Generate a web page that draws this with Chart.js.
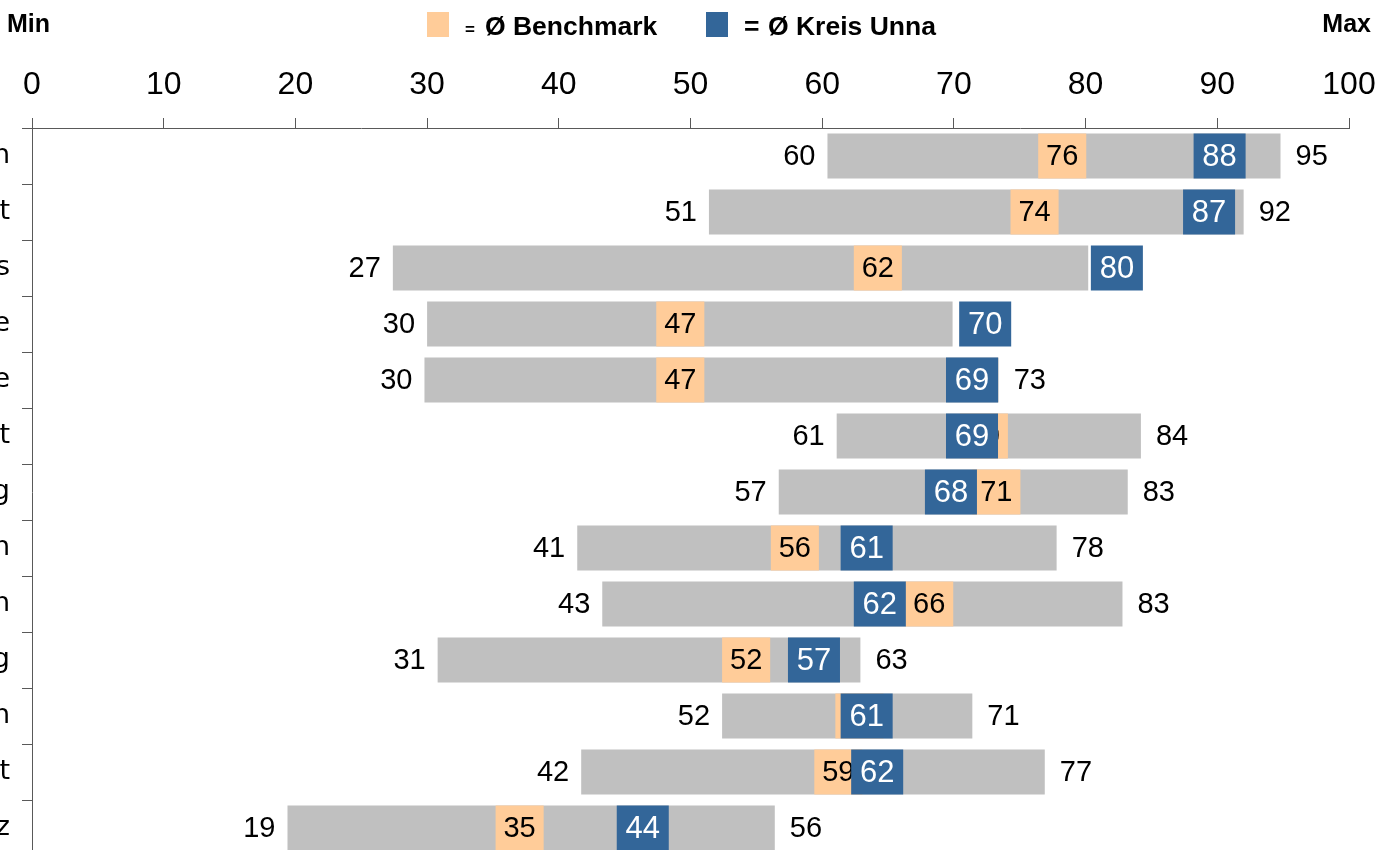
<!DOCTYPE html>
<html>
<head>
<meta charset="utf-8">
<script src="https://cdn.jsdelivr.net/npm/chart.js@4/dist/chart.umd.min.js"></script>
<style>
html, body { margin: 0; padding: 0; overflow: hidden; background: #fff; }
#wrap { position: relative; width: 1383px; height: 856px; }
</style>
</head>
<body>
<div id="wrap"><canvas id="myChart"></canvas></div>
<script>
// Kategorien (nur die sichtbaren Endbuchstaben der abgeschnittenen Beschriftungen)
const labels = ['n', 't', 's', 'e', 'e', 't', 'g', 'n', 'n', 'g', 'n', 't', 'z'];
// Spannweite Min - Max
const minVals = [60.4, 51.4, 27.4, 30.0, 29.8, 61.1, 56.7, 41.4, 43.3, 30.8, 52.4, 41.7, 19.4];
const maxVals = [94.8, 92.0, 80.2, 69.9, 73.4, 84.2, 83.2, 77.8, 82.8, 62.9, 71.4, 76.9, 56.4];
// Ø Benchmark und Ø Kreis Unna
const benchmark = [76.4, 74.3, 62.4, 47.4, 47.4, 70.45, 71.4, 56.1, 66.3, 52.4, 61.0, 59.4, 35.2];
const kreisUnna = [88.2, 87.4, 80.4, 70.4, 69.4, 69.4, 67.8, 61.4, 62.4, 57.4, 61.4, 62.2, 44.4];
const xTicks = [0, 10, 20, 30, 40, 50, 60, 70, 80, 90, 100];

const GREY = '#c0c0c0';
const ORANGE = '#ffcc99';
const BLUE = '#336699';
const BOX_B = 3.65; // Breite der Kästchen in Achseneinheiten
const BOX_K = 3.95;
const FONT = '"Liberation Sans", Arial, sans-serif';

const valueLabels = {
  id: 'valueLabels',
  afterDatasetDraw(chart, args) {
    const ctx = chart.ctx;
    const xs = chart.scales.x;
    ctx.save();
    ctx.textBaseline = 'middle';
    args.meta.data.forEach((bar, i) => {
      ctx.font = '29px ' + FONT;
      if (args.index === 2) {
        ctx.fillStyle = '#000';
        ctx.textAlign = 'right';
        ctx.fillText(Math.round(minVals[i]), xs.getPixelForValue(minVals[i]) - 12, bar.y + 1);
        if (Math.round(maxVals[i]) !== Math.round(kreisUnna[i])) {
          ctx.textAlign = 'left';
          ctx.fillText(Math.round(maxVals[i]), xs.getPixelForValue(maxVals[i]) + 15, bar.y + 1);
        }
      } else if (args.index === 1) {
        ctx.fillStyle = '#000';
        ctx.textAlign = 'center';
        ctx.fillText(Math.round(benchmark[i]), (bar.x + bar.base) / 2, bar.y + 1);
      } else {
        ctx.fillStyle = '#fff';
        ctx.textAlign = 'center';
        ctx.font = '31px ' + FONT;
        ctx.fillText(Math.round(kreisUnna[i]), (bar.x + bar.base) / 2, bar.y + 1);
      }
    });
    ctx.restore();
  },
  afterDraw(chart) {
    const ctx = chart.ctx;
    ctx.save();
    ctx.fillStyle = '#000';
    ctx.textBaseline = 'alphabetic';
    ctx.font = 'bold 25px ' + FONT;
    ctx.textAlign = 'left';
    ctx.fillText('Min', 7, 32);
    ctx.textAlign = 'right';
    ctx.fillText('Max', 1371, 32);

    // Legende
    ctx.fillStyle = ORANGE;
    ctx.fillRect(427, 12, 22, 25);
    ctx.fillStyle = BLUE;
    ctx.fillRect(706, 12, 22, 25);
    ctx.fillStyle = '#000';
    ctx.textAlign = 'left';
    ctx.font = 'bold 17px ' + FONT;
    ctx.fillText('=', 465, 35);
    ctx.font = 'bold 26.5px ' + FONT;
    ctx.fillText('Ø Benchmark', 485, 35);
    ctx.fillText('=', 744, 35);
    ctx.fillText('Ø Kreis Unna', 768, 35);
    ctx.restore();
  }
};

const ctx = document.getElementById('myChart');
new Chart(ctx, {
  type: 'bar',
  data: {
    labels: labels,
    datasets: [
      {
        label: 'Ø Kreis Unna',
        data: kreisUnna.map(v => [v, v + BOX_K]),
        backgroundColor: BLUE
      },
      {
        label: 'Ø Benchmark',
        data: benchmark.map(v => [v, v + BOX_B]),
        backgroundColor: ORANGE
      },
      {
        label: 'Min - Max',
        data: minVals.map((v, i) => [v, maxVals[i]]),
        backgroundColor: GREY
      }
    ]
  },
  options: {
    indexAxis: 'y',
    responsive: true,
    maintainAspectRatio: false,
    animation: false,
    layout: { padding: { left: 0, right: 34, top: 0, bottom: 0 } },
    datasets: {
      bar: {
        grouped: false,
        borderWidth: 0,
        categoryPercentage: 1,
        barPercentage: 0.8
      }
    },
    plugins: {
      legend: { display: false },
      tooltip: { enabled: false }
    },
    scales: {
      x: {
        position: 'top',
        min: 0,
        max: 100,
        afterBuildTicks: s => { s.ticks = xTicks.map(v => ({ value: v })); },
        afterFit: s => { s.height = 128; s.paddingLeft = 0; s.paddingRight = 0; },
        ticks: {
          color: '#000',
          font: { family: FONT, size: 32 },
          padding: 14,
          maxRotation: 0
        },
        grid: { drawOnChartArea: false, tickLength: 10, color: '#595959' },
        border: { display: true, color: '#595959' }
      },
      y: {
        afterFit: s => { s.width = 32; s.paddingTop = 0; s.paddingBottom = 0; },
        ticks: {
          color: '#000',
          font: { family: '"DejaVu Sans", sans-serif', size: 27 },
          padding: 12
        },
        grid: { drawOnChartArea: false, offset: true, tickLength: 10, color: '#595959' },
        border: { display: true, color: '#595959' }
      }
    }
  },
  plugins: [valueLabels]
});
</script>
</body>
</html>
